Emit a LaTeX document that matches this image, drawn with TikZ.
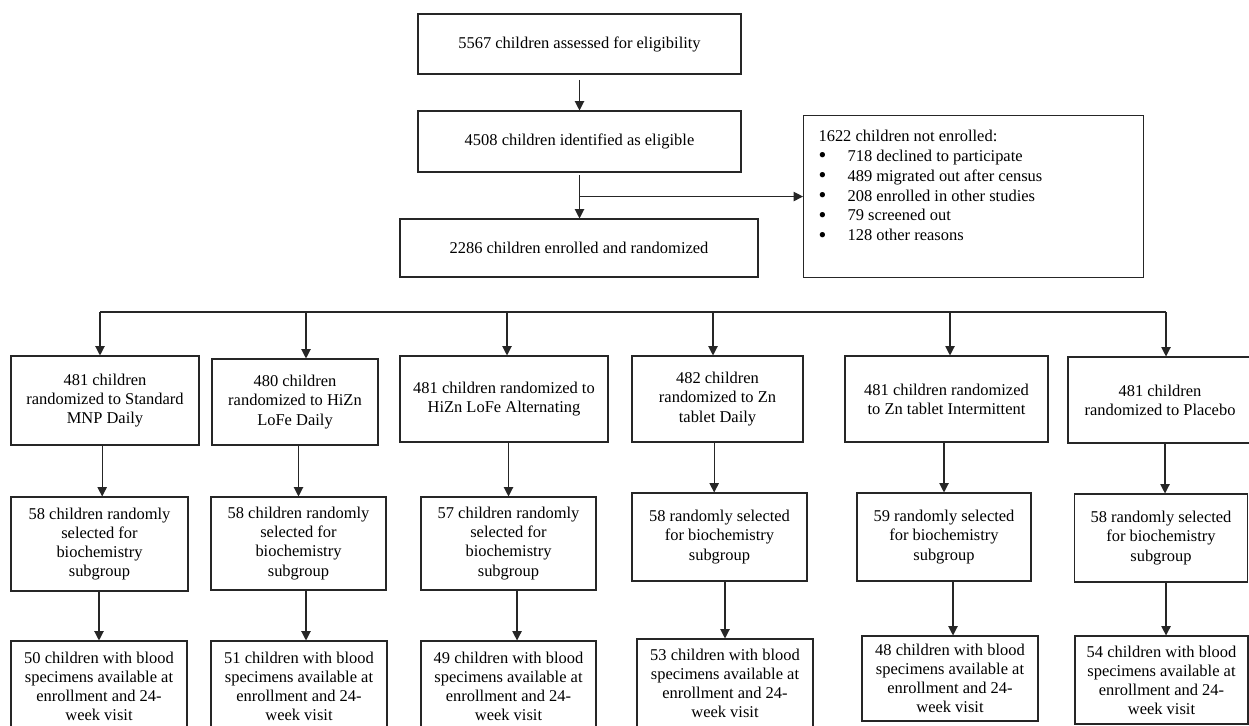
\documentclass[tikz,border=0pt]{standalone}
\usepackage{fontspec}
\setmainfont{Liberation Serif}
\usetikzlibrary{arrows.meta,positioning}
\tikzset{
  box/.style={
    draw=black!85, line width=0.8pt,
    align=center, inner sep=2pt,
    font=\fontsize{12.35}{14.3}\selectfont
  },
  boxsize/.style 2 args={minimum width=#1*0.75pt, minimum height=#2*0.75pt},
  note/.style={
    draw=black!85, line width=0.8pt, anchor=north west,
    inner xsep=11.25pt, inner ysep=11pt,
    font=\fontsize{12.35}{14.85}\selectfont
  },
  arrow/.style={-{Triangle[length=7pt,width=7pt]}, line width=0.85pt, draw=black!85}
}
\newcommand{\bull}{\makebox[21.75pt][l]{\raisebox{-0.2ex}{\scalebox{1.35}{\textbullet}}}}

\begin{document}
\begin{tikzpicture}[x=0.75pt, y=-0.75pt]
\useasboundingbox (0,0) rectangle (1249,725);

% ---------- Screening ----------
\node[box, boxsize={323}{60}] (elig) at (579.5,44) {5567 children assessed for eligibility};
\node[box, boxsize={323}{61}] (ident) at (579.5,141.5) {4508 children identified as eligible};
\node[box, boxsize={358}{58}] (enr) at (579,248) {2286 children enrolled and randomized};

\node[note] (noten) at (803,115) {\begin{minipage}[c][99.5pt][t]{232.5pt}
1622 children not enrolled:\\
\bull 718 declined to participate\\
\bull 489 migrated out after census\\
\bull 208 enrolled in other studies\\
\bull 79 screened out\\
\bull 128 other reasons
\end{minipage}};

\draw[arrow, shorten <=4pt] (elig.south) -- (ident.north);
\draw[arrow, shorten <=2pt] (ident.south) -- (ident.south |- enr.north);
\draw[arrow] (ident.south |- noten.west) -- (noten.west);

% ---------- Randomized arms ----------
\node[box, boxsize={188}{89}] (rand1) at (105,400.5) {481 children\\randomized to Standard\\MNP Daily};
\node[box, boxsize={166}{86}] (rand2) at (295,402) {480 children\\randomized to HiZn\\LoFe Daily};
\node[box, boxsize={208}{86}] (rand3) at (504,399) {481 children randomized to\\HiZn LoFe Alternating};
\node[box, boxsize={171}{86}] (rand4) at (717.5,399) {482 children\\randomized to Zn\\tablet Daily};
\node[box, boxsize={203}{86}] (rand5) at (946.5,399) {481 children randomized\\to Zn tablet Intermittent};
\node[box, boxsize={184}{86}] (rand6) at (1160,400) {481 children\\randomized to Placebo};

\coordinate (bar1) at (100,312);
\coordinate (bar2) at (306,312);
\coordinate (bar3) at (507,312);
\coordinate (bar4) at (713,312);
\coordinate (bar5) at (950,312);
\coordinate (bar6) at (1166,312);
\draw[line width=0.85pt, draw=black!85] (bar1) -- (bar6);
\draw[arrow] (bar1) -- (bar1 |- rand1.north);
\draw[arrow] (bar2) -- (bar2 |- rand2.north);
\draw[arrow] (bar3) -- (bar3 |- rand3.north);
\draw[arrow] (bar4) -- (bar4 |- rand4.north);
\draw[arrow] (bar5) -- (bar5 |- rand5.north);
\draw[arrow] (bar6) -- (bar6 |- rand6.north);

% ---------- Biochemistry subgroup ----------
\node[box, boxsize={177}{94}] (sel1) at (99.5,544) {58 children randomly\\selected for\\biochemistry\\subgroup};
\node[box, boxsize={175}{93}] (sel2) at (298.5,543.5) {58 children randomly\\selected for\\biochemistry\\subgroup};
\node[box, boxsize={175}{93}] (sel3) at (508.5,543.5) {57 children randomly\\selected for\\biochemistry\\subgroup};
\node[box, boxsize={175}{88}] (sel4) at (719.5,537) {58 randomly selected\\for biochemistry\\subgroup};
\node[box, boxsize={174}{88}] (sel5) at (944,537) {59 randomly selected\\for biochemistry\\subgroup};
\node[box, boxsize={173}{88}] (sel6) at (1161,538) {58 randomly selected\\for biochemistry\\subgroup};

\draw[arrow] ([xshift=2pt]sel1.north |- rand1.south) -- ([xshift=2pt]sel1.north);
\draw[arrow] (sel2.north |- rand2.south) -- (sel2.north);
\draw[arrow] (sel3.north |- rand3.south) -- (sel3.north);
\draw[arrow] ([xshift=-4pt]sel4.north |- rand4.south) -- ([xshift=-4pt]sel4.north);
\draw[arrow] (sel5.north |- rand5.south) -- (sel5.north);
\draw[arrow] ([xshift=3pt]sel6.north |- rand6.south) -- ([xshift=3pt]sel6.north);

% ---------- Blood specimens ----------
\node[box, boxsize={176}{90}] (blood1) at (99,686) {50 children with blood\\specimens available at\\enrollment and 24-\\week visit};
\node[box, boxsize={176}{90}] (blood2) at (299,686) {51 children with blood\\specimens available at\\enrollment and 24-\\week visit};
\node[box, boxsize={175}{90}] (blood3) at (508.5,686) {49 children with blood\\specimens available at\\enrollment and 24-\\week visit};
\node[box, boxsize={176}{88}] (blood4) at (725,683) {53 children with blood\\specimens available at\\enrollment and 24-\\week visit};
\node[box, boxsize={176}{85}] (blood5) at (950,678.5) {48 children with blood\\specimens available at\\enrollment and 24-\\week visit};
\node[box, boxsize={173}{88}] (blood6) at (1161.5,680) {54 children with blood\\specimens available at\\enrollment and 24-\\week visit};

\draw[arrow] (blood1.north |- sel1.south) -- (blood1.north);
\draw[arrow] ([xshift=5.25pt]blood2.north |- sel2.south) -- ([xshift=5.25pt]blood2.north);
\draw[arrow] ([xshift=6.4pt]blood3.north |- sel3.south) -- ([xshift=6.4pt]blood3.north);
\draw[arrow] (blood4.north |- sel4.south) -- (blood4.north);
\draw[arrow] ([xshift=2.25pt]blood5.north |- sel5.south) -- ([xshift=2.25pt]blood5.north);
\draw[arrow] ([xshift=3.4pt]blood6.north |- sel6.south) -- ([xshift=3.4pt]blood6.north);

\end{tikzpicture}
\end{document}
